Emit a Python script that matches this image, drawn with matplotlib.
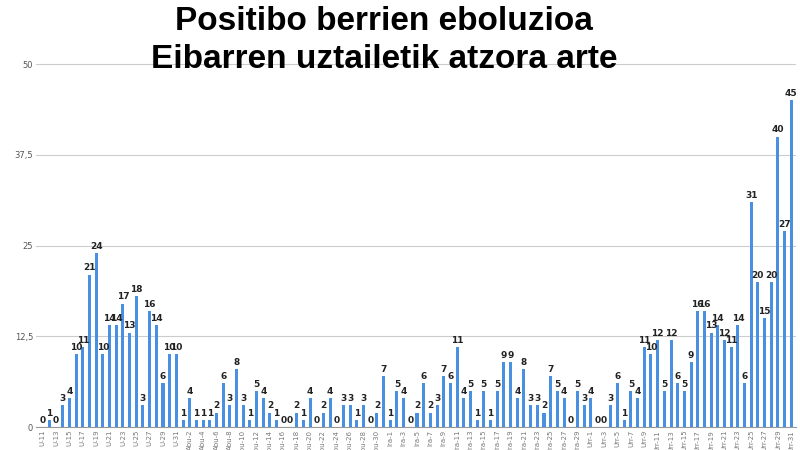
import numpy as np
import pandas as pd
import matplotlib.pyplot as plt

# === Data ===
values = [0, 1, 0, 3, 4, 10, 11, 21, 24, 10, 14, 14, 17, 13, 18, 3, 16, 14, 6, 10, 10,
          1, 4, 1, 1, 1, 2, 6, 3, 8, 3, 1, 5, 4,
          2, 1, 0, 0, 2, 1, 4, 0, 2, 4, 0, 3, 3, 1, 3, 0, 2, 7, 1, 5, 4, 0, 2, 6, 2, 3,
          7, 6, 11, 4, 5, 1, 5, 1, 5, 9, 9, 4, 8, 3, 3,
          2, 7, 5, 4, 0, 5, 3, 4, 0, 0, 3, 6, 1, 5, 4, 11, 10, 12, 5, 12, 6, 5, 9, 16, 16,
          13, 14, 12, 11, 14, 6, 31, 20, 15, 20, 40, 27, 45]
dates = pd.date_range('2020-07-11', periods=len(values))
month_abbr = {7: 'U', 8: 'Abu', 9: 'Ira', 10: 'Urr'}
labels = [f"{month_abbr[d.month]}-{d.day}" for d in dates]

# === Plot ===
fig = plt.figure(figsize=(8, 4.5), dpi=100)
ax = fig.add_axes([0.045, 0.051, 0.95, 0.839])
x = np.arange(len(values))
ax.bar(x, values, width=0.45, color='#4a90e2', zorder=3)
for xi, v in zip(x, values):
    ax.text(xi, v + 0.3, str(v), ha='center', va='bottom', fontsize=6.5,
            fontweight='bold', color='#222222', zorder=4)

ax.set_ylim(0, 52)
ax.set_xlim(-1, len(values) - 0.3)
ax.set_yticks([0, 12.5, 25, 37.5, 50])
ax.set_yticklabels(['0', '12,5', '25', '37,5', '50'], fontsize=6, color='#555555')
ax.set_xticks(x[::2])
ax.set_xticklabels(labels[::2], rotation=90, fontsize=5, color='#777777')
ax.tick_params(length=0, pad=2)
ax.grid(axis='y', color='#cccccc', linewidth=0.8, zorder=0)
for s in ['top', 'right', 'left']:
    ax.spines[s].set_visible(False)
ax.spines['bottom'].set_color('#999999')

fig.text(0.48, 0.952, "Positibo berrien eboluzioa", ha='center', va='center',
         fontsize=24, fontweight='bold', family='Liberation Sans')
fig.text(0.48, 0.868, "Eibarren uztailetik atzora arte", ha='center', va='center',
         fontsize=24, fontweight='bold', family='Liberation Sans')

fig.savefig('out.png', dpi=100)
